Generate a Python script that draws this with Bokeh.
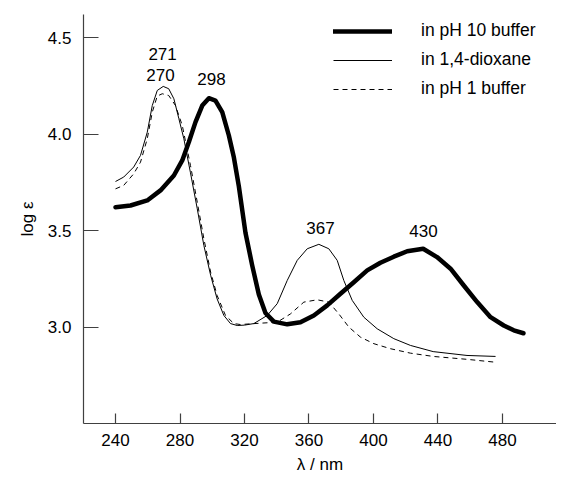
from bokeh.plotting import figure
from bokeh.models import Range1d, FixedTicker, Legend, LegendItem, ColumnDataSource
from bokeh.core.properties import value
from bokeh.embed import file_html
from bokeh.resources import INLINE

# pH 10 buffer (thick)
ph10_x = [240, 249.3, 259.7, 267.9, 276.2, 281.4, 285.5, 289.6, 293.8, 297.9, 302, 306.2, 310.3,
          313.4, 316.5, 320.6, 324.8, 328.9, 333, 338.2, 346.5, 354.7, 363, 371.3, 379.5, 387.8,
          396.1, 404.3, 412.6, 420.9, 430.8, 439.4, 447.8, 456, 464.3, 472.6, 480.8, 487, 493]
ph10_y = [3.622, 3.631, 3.657, 3.709, 3.786, 3.864, 3.959, 4.062, 4.148, 4.186, 4.174, 4.114, 3.993,
          3.88, 3.73, 3.49, 3.32, 3.17, 3.075, 3.03, 3.016, 3.027, 3.062, 3.114, 3.174, 3.234,
          3.295, 3.335, 3.366, 3.394, 3.407, 3.364, 3.304, 3.217, 3.131, 3.053, 3.01, 2.985, 2.97]

# 1,4-dioxane (thin solid)
diox_x = [240, 245.1, 251.3, 255.5, 259.7, 262.8, 265.9, 269.6, 273, 276.2, 279.3, 282.4, 286.5,
          290.7, 294.8, 299, 303, 307.2, 311.3, 315.5, 320, 325.8, 334.1, 340.3, 346.5, 352.7,
          358.9, 366.1, 372.3, 377.5, 381.6, 386.8, 394, 402.3, 412.6, 422.9, 437, 458, 475.7]
diox_y = [3.755, 3.778, 3.83, 3.89, 4.01, 4.148, 4.226, 4.247, 4.235, 4.183, 4.08, 3.976, 3.80,
          3.614, 3.424, 3.27, 3.148, 3.062, 3.02, 3.01, 3.012, 3.02, 3.062, 3.123, 3.243, 3.347,
          3.407, 3.43, 3.407, 3.347, 3.243, 3.14, 3.053, 2.993, 2.942, 2.907, 2.875, 2.855, 2.85]

# pH 1 buffer (dashed)
ph1_x = [240, 245.1, 251.3, 255.5, 259.7, 262.8, 265.9, 269, 273, 277.2, 281.4, 286.5, 290.7,
         294.8, 299, 303, 308.2, 313.4, 317.5, 329.9, 340.3, 348.5, 356.8, 365.1, 372.3, 378.5,
         384.7, 391.9, 400.2, 410.5, 422.9, 437, 458, 475.7]
ph1_y = [3.717, 3.735, 3.795, 3.855, 3.976, 4.114, 4.197, 4.209, 4.20, 4.148, 4.045, 3.838, 3.648,
         3.459, 3.286, 3.166, 3.062, 3.02, 3.015, 3.022, 3.027, 3.07, 3.131, 3.143, 3.131, 3.07,
         3.002, 2.95, 2.916, 2.89, 2.867, 2.85, 2.835, 2.82]

peak_labels = ["271", "270", "298", "367", "430"]
peak_label_x = [269.2, 267.9, 299.5, 367.1, 431]
peak_label_y = [4.417, 4.304, 4.283, 3.517, 3.497]

x_ticks = [240, 280, 320, 360, 400, 440, 480]
y_ticks = [3.0, 3.5, 4.0, 4.5]
y_tick_labels = {3.0: "3.0", 3.5: "3.5", 4.0: "4.0", 4.5: "4.5"}

FONT = "Liberation Sans"

p = figure(frame_width=473, frame_height=409, output_backend="svg", toolbar_location=None,
           x_range=Range1d(220.15, 513.5), y_range=Range1d(2.503, 4.619),
           min_border_left=83, min_border_right=0, min_border_top=14, min_border_bottom=50)
p.outline_line_color = None
p.grid.visible = False
p.background_fill_color = "white"
p.border_fill_color = "white"

for ax in (p.xaxis[0], p.yaxis[0]):
    ax.axis_line_color = "#404040"
    ax.axis_line_width = 1.2
    ax.major_tick_line_color = "#404040"
    ax.major_tick_line_width = 1.2
    ax.minor_tick_line_color = None
    ax.major_tick_out = 0
    ax.major_label_text_font = FONT
    ax.major_label_text_font_size = "17px"
    ax.major_label_text_color = "black"
    ax.axis_label_text_font = FONT
    ax.axis_label_text_font_size = "17px"
    ax.axis_label_text_font_style = "normal"
    ax.axis_label_text_color = "black"

p.xaxis.ticker = FixedTicker(ticks=x_ticks)
p.yaxis.ticker = FixedTicker(ticks=y_ticks)
p.yaxis.major_label_overrides = y_tick_labels
p.xaxis.major_tick_in = 10
p.yaxis.major_tick_in = 15
p.xaxis.major_label_standoff = 10
p.yaxis.major_label_standoff = 12
p.xaxis.axis_label = "λ / nm"
p.yaxis.axis_label = "log ε"
p.xaxis.axis_label_standoff = 6
p.yaxis.axis_label_standoff = 8

r10 = p.line(ph10_x, ph10_y, line_color="black", line_width=4.5, line_join="round", line_cap="round")
rdx = p.line(diox_x, diox_y, line_color="black", line_width=1, line_join="round")
rp1 = p.line(ph1_x, ph1_y, line_color="black", line_width=1, line_dash="5 4", line_join="round")

src = ColumnDataSource(dict(x=peak_label_x, y=peak_label_y, t=peak_labels))
p.text(x="x", y="y", text="t", source=src, text_align="center", text_baseline="middle",
       text_font=value(FONT), text_font_size="17px", text_color="black")

legend = Legend(items=[LegendItem(label="in pH 10 buffer", renderers=[r10]),
                       LegendItem(label="in 1,4-dioxane", renderers=[rdx]),
                       LegendItem(label="in pH 1 buffer", renderers=[rp1])],
                location=(250, 324))
legend.border_line_color = None
legend.background_fill_alpha = 0
legend.padding = 0
legend.margin = 0
legend.spacing = 8
legend.glyph_width = 59
legend.glyph_height = 20
legend.label_height = 20
legend.label_standoff = 29
legend.label_text_font = FONT
legend.label_text_font_size = "17.5px"
legend.label_text_color = "black"
p.add_layout(legend, "center")

open("out.html", "w").write(file_html(p, INLINE))
